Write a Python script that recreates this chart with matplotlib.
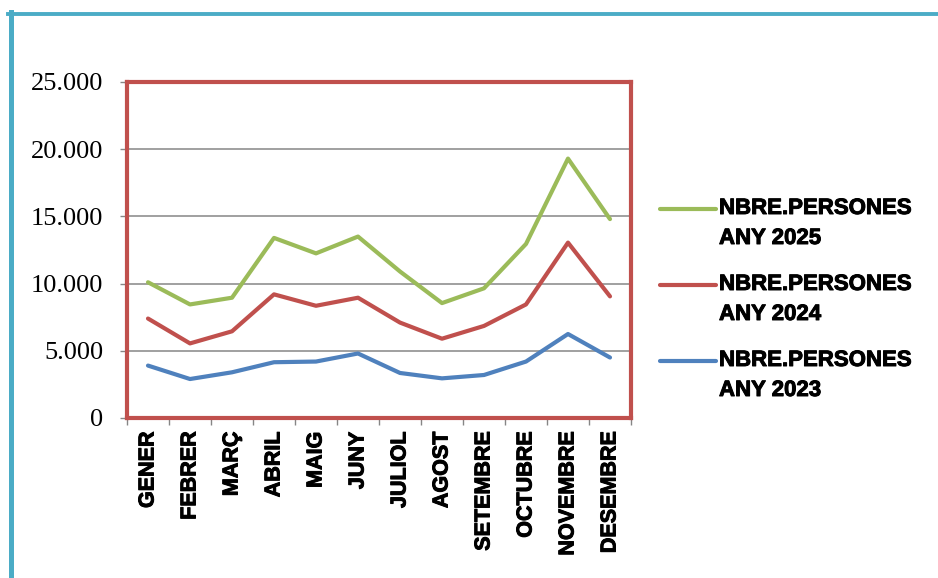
import numpy as np
import matplotlib
matplotlib.use('Agg')
from matplotlib import pyplot as plt
from matplotlib.lines import Line2D
import matplotlib.patheffects as pe

months = ['GENER', 'FEBRER', 'MARÇ', 'ABRIL', 'MAIG', 'JUNY', 'JULIOL',
          'AGOST', 'SETEMBRE', 'OCTUBRE', 'NOVEMBRE', 'DESEMBRE']
any_2025 = [10100, 8450, 8950, 13400, 12250, 13500, 10900, 8550, 9650, 12950, 19300, 14800]
any_2024 = [7400, 5550, 6450, 9200, 8350, 8950, 7100, 5900, 6850, 8450, 13050, 9050]
any_2023 = [3900, 2900, 3400, 4150, 4200, 4800, 3350, 2950, 3200, 4200, 6250, 4500]
series = [any_2025, any_2024, any_2023]
labels = [('NBRE.PERSONES', 'ANY 2025'), ('NBRE.PERSONES', 'ANY 2024'), ('NBRE.PERSONES', 'ANY 2023')]
colors = ['#9BBB59', '#C0504D', '#4F81BD']
yticks = [0, 5000, 10000, 15000, 20000, 25000]

W, H = 938, 578
fig = plt.figure(figsize=(W/100, H/100), dpi=100)
heavy = [pe.withStroke(linewidth=0.7, foreground='black')]

# outer cyan frame (top + left)
fig.add_artist(Line2D([8/W, 1], [1-13.5/H, 1-13.5/H], color='#4BACC6', lw=2.8))
fig.add_artist(Line2D([10.5/W, 10.5/W], [0, 1-12/H], color='#4BACC6', lw=3.6))

ax = fig.add_axes([127/W, 1-418/H, (631-127)/W, (418-82)/H])
x = np.arange(len(months)) + 0.5
for vals, c in zip(series, colors):
    ax.plot(x, vals, color=c, lw=3, solid_capstyle='round', solid_joinstyle='round', zorder=3)

ax.set_xlim(0, len(months))
ax.set_ylim(0, 25000)
ax.set_yticks(yticks)
ax.set_yticklabels([f'{v:,.0f}'.replace(',', '.') for v in yticks],
                   family='Liberation Serif', fontsize=19)
ax.yaxis.grid(True, color='#868686', lw=1.1, zorder=1)
ax.set_axisbelow(True)

ax.set_xticks(np.arange(len(months) + 1))
ax.set_xticklabels([])
ax.set_xticks(x, minor=True)
xl = ax.set_xticklabels(months, minor=True, rotation=90, va='top', ha='center',
                        family='Liberation Sans', fontweight='bold', fontsize=15.5)
for t in xl:
    t.set_path_effects(heavy)
ax.tick_params(axis='x', which='major', length=5, color='#868686', width=1)
ax.tick_params(axis='x', which='minor', length=0, pad=10)
ax.tick_params(axis='y', length=5, color='#868686', width=1, pad=12)

for s in ax.spines.values():
    s.set_color('#C0504D')
    s.set_linewidth(3)

# legend drawn by hand: line next to first text row
for i, (lab, c) in enumerate(zip(labels, colors)):
    y0 = 209 + i*76
    fig.add_artist(Line2D([660/W, 716/W], [1-y0/H, 1-y0/H], color=c, lw=3,
                          solid_capstyle='round'))
    for j, part in enumerate(lab):
        fig.text(719/W, 1-(y0+5+j*30)/H, part, va='baseline', ha='left',
                 family='Liberation Sans', fontweight='bold', fontsize=16,
                 path_effects=heavy)

fig.savefig('out.png', dpi=100)
